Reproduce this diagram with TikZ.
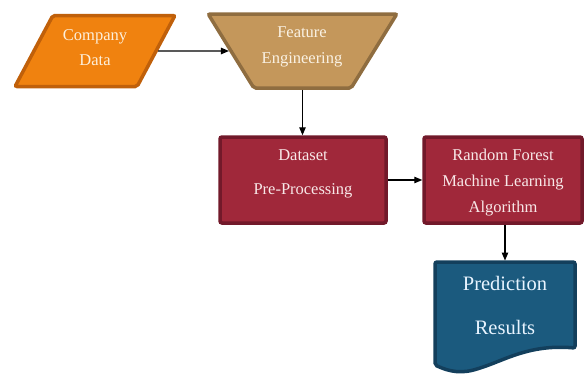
\documentclass[tikz,border=0pt]{standalone}
\usepackage{fontspec}
\setmainfont{Liberation Serif}
\usetikzlibrary{shapes.geometric,arrows.meta}
\definecolor{orF}{HTML}{F0820F}
\definecolor{orD}{HTML}{C0600A}
\definecolor{tnF}{HTML}{C4975B}
\definecolor{tnD}{HTML}{8F6D40}
\definecolor{rdF}{HTML}{A0283A}
\definecolor{rdD}{HTML}{72192A}
\definecolor{blF}{HTML}{1B5A7E}
\definecolor{blD}{HTML}{133F5C}
\definecolor{orT}{HTML}{FDF0DC}
\definecolor{tnT}{HTML}{FAF2E4}
\definecolor{rdT}{HTML}{F8E8E8}
\definecolor{blT}{HTML}{E8F4FF}
\begin{document}
\begin{tikzpicture}[x=1pt,y=-1pt,
  shp/.style={line width=3.5pt, rounded corners=2pt, inner sep=3pt},
  txt/.style={align=center, inner sep=0pt, font=\fontsize{16.5}{25}\selectfont},
  conn/.style={-{Triangle[length=8pt,width=6.5pt]}, line width=1.1pt}]
\useasboundingbox (0,0) rectangle (586,375);

\node[shp, trapezium, trapezium left angle=65, trapezium right angle=115,
      trapezium stretches=true, minimum width=160pt, minimum height=71pt,
      fill=orF, draw=orD] (cd) at (95,51) {\phantom{x}};
\node[shp, trapezium, trapezium left angle=116, trapezium right angle=116,
      trapezium stretches=true, minimum width=189pt, minimum height=74pt,
      fill=tnF, draw=tnD] (fe) at (302.5,51) {\phantom{x}};
\node[shp, rectangle, minimum width=166pt, minimum height=86pt,
      fill=rdF, draw=rdD] (ds) at (303,180) {};
\node[shp, rectangle, minimum width=158pt, minimum height=86pt,
      fill=rdF, draw=rdD] (rf) at (503,180) {};
\draw[shp, fill=blF, draw=blD] (435,262) -- (575,262) -- (575,348)
  .. controls (530,344) and (505,360) .. (480,368)
  .. controls (462,374) and (450,372) .. (435,365) -- cycle;
\coordinate (prtop) at (505,260.5);

\node[txt, text=orT] (cdT) at (95,48) {Company\\Data};
\node[txt, text=tnT, font=\fontsize{16.5}{26}\selectfont] (feT) at (302,47) {Feature\\Engineering};
\node[txt, text=rdT, font=\fontsize{16.5}{34}\selectfont] (dsT) at (303,174) {Dataset\\Pre-Processing};
\node[txt, text=rdT, font=\fontsize{16.5}{26}\selectfont] (rfT) at (503,183) {Random Forest\\Machine Learning\\Algorithm};
\node[txt, text=blT, font=\fontsize{20.5}{44}\selectfont] (prT) at (505,305) {Prediction\\Results};

\draw[conn] (cd.east) -- (fe.west);
\draw[conn] (fe.south) -- (fe.south |- ds.north);
\draw[conn] (ds.east) -- (rf.west);
\draw[conn] (rf.south -| prtop) -- (prtop);
\end{tikzpicture}
\end{document}
